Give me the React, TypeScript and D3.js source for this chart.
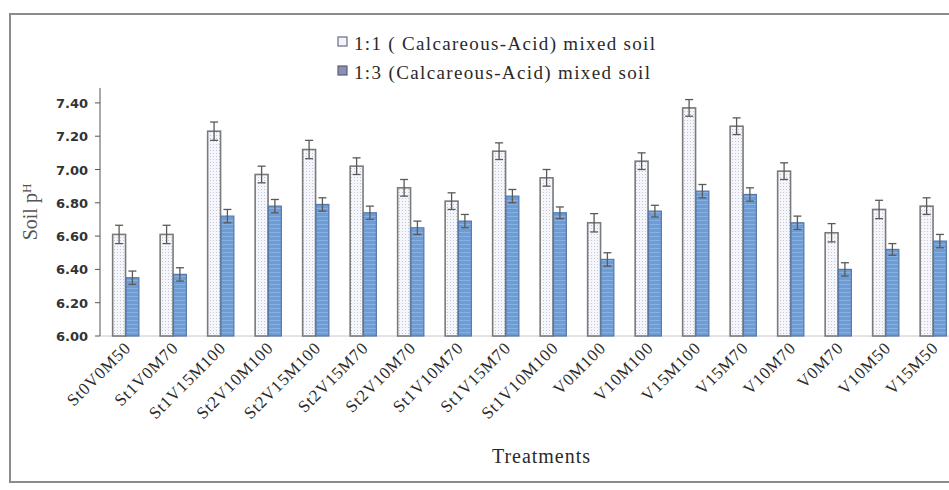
import React from "react";
import * as d3 from "d3";

const categories = [
  "St0V0M50", "St1V0M70", "St1V15M100", "St2V10M100", "St2V15M100", "St2V15M70",
  "St2V10M70", "St1V10M70", "St1V15M70", "St1V10M100", "V0M100", "V10M100",
  "V15M100", "V15M70", "V10M70", "V0M70", "V10M50", "V15M50",
];
const series11 = [6.61, 6.61, 7.23, 6.97, 7.12, 7.02, 6.89, 6.81, 7.11, 6.95, 6.68, 7.05, 7.37, 7.26, 6.99, 6.62, 6.76, 6.78];
const err11 = [0.055, 0.055, 0.055, 0.05, 0.055, 0.05, 0.05, 0.05, 0.05, 0.05, 0.055, 0.05, 0.05, 0.05, 0.05, 0.055, 0.055, 0.05];
const series13 = [6.35, 6.37, 6.72, 6.78, 6.79, 6.74, 6.65, 6.69, 6.84, 6.74, 6.46, 6.75, 6.87, 6.85, 6.68, 6.40, 6.52, 6.57];
const err13 = [0.04, 0.04, 0.04, 0.04, 0.04, 0.04, 0.04, 0.04, 0.04, 0.035, 0.04, 0.035, 0.04, 0.04, 0.04, 0.04, 0.035, 0.04];
const yTicks = [6.0, 6.2, 6.4, 6.6, 6.8, 7.0, 7.2, 7.4];
const legendLabels = ["1:1 ( Calcareous-Acid) mixed soil", "1:3 (Calcareous-Acid) mixed soil"];

export default function App() {
  const W = 949, H = 490;
  const x0 = d3.scaleBand<string>().domain(categories).range([102, 957]).padding(0);
  const x1 = d3.scaleBand<string>().domain(["a", "b"]).range([-13.5, 13.5]).padding(0.03);
  const y = d3.scaleLinear().domain([6.0, 7.5]).range([336, 86.25]);
  const serif = "'Liberation Serif', 'Times New Roman', serif";
  const cx = (c: string) => (x0(c) as number) + x0.bandwidth() / 2;

  const errBar = (xc: number, v: number, e: number, key: string) => (
    <g key={key} stroke="#5a5a5a" strokeWidth={1.3}>
      <line x1={xc} x2={xc} y1={y(v - e)} y2={y(v + e)} />
      <line x1={xc - 4} x2={xc + 4} y1={y(v + e)} y2={y(v + e)} />
      <line x1={xc - 4} x2={xc + 4} y1={y(v - e)} y2={y(v - e)} />
    </g>
  );

  return (
    <div style={{ position: "absolute", left: 0, top: 0 }}>
      <svg width={W} height={H} style={{ display: "block", background: "#fff" }}>
        <defs>
          <pattern id="dots" width="3" height="3" patternUnits="userSpaceOnUse">
            <rect width="3" height="3" fill="#f4f6fb" />
            <rect width="1" height="1" fill="#c3c8d4" />
          </pattern>
          <pattern id="blue" width="4" height="4" patternUnits="userSpaceOnUse">
            <rect width="4" height="4" fill="#6d9dd6" />
            <rect width="4" height="1" fill="#88b1e1" />
          </pattern>
        </defs>
        <rect x={10} y={14} width={960} height={468} fill="#fff" stroke="#8c8c8c" strokeWidth={2} />

        {/* legend */}
        <rect x={338} y={37} width={9} height={9} fill="#f2f4f9" stroke="#6a6d80" strokeWidth={1.2} />
        <text x={354} y={50} fontFamily={serif} fontSize={19} fill="#2a2a2a" textLength={301} lengthAdjust="spacing">{legendLabels[0]}</text>
        <rect x={338} y={66} width={9} height={9} fill="#8a90b2" stroke="#5a5f7a" strokeWidth={1.2} />
        <text x={354} y={79} fontFamily={serif} fontSize={19} fill="#2a2a2a" textLength={296} lengthAdjust="spacing">{legendLabels[1]}</text>

        {/* baseline */}
        <line x1={100} x2={949} y1={y(6)} y2={y(6)} stroke="#c8c8c8" strokeWidth={1} />

        {/* bars */}
        {categories.map((c, i) => {
          const xa = cx(c) + (x1("a") as number);
          const xb = cx(c) + (x1("b") as number);
          const bw = x1.bandwidth();
          return (
            <g key={c}>
              <rect x={xa} y={y(series11[i])} width={bw} height={y(6) - y(series11[i])} fill="url(#dots)" stroke="#7a7a7a" strokeWidth={1.6} />
              <rect x={xb} y={y(series13[i])} width={bw} height={y(6) - y(series13[i])} fill="url(#blue)" stroke="#5676a6" strokeWidth={1.2} />
              {errBar(xa + bw / 2, series11[i], err11[i], "ea")}
              {errBar(xb + bw / 2, series13[i], err13[i], "eb")}
            </g>
          );
        })}

        {/* y axis */}
        <line x1={100} x2={100} y1={y(7.49)} y2={y(6)} stroke="#555" strokeWidth={1} />
        {yTicks.map((t) => (
          <g key={t}>
            <line x1={95} x2={100} y1={y(t)} y2={y(t)} stroke="#555" strokeWidth={1} />
            <text x={88} y={y(t) + 5} textAnchor="end" fontFamily="'DejaVu Sans', sans-serif" fontWeight="bold" fontSize={13} fill="#333">
              {d3.format(".2f")(t)}
            </text>
          </g>
        ))}

        {/* x labels */}
        {categories.map((c) => (
          <text
            key={c}
            transform={`translate(${cx(c) + 6},${349}) rotate(-45)`}
            textAnchor="end"
            fontFamily={serif}
            fontSize={17}
            letterSpacing={0.8}
            fill="#2a2a2a"
          >
            {c}
          </text>
        ))}

        <text x={541} y={463} textAnchor="middle" fontFamily={serif} fontSize={20} fill="#2a2a2a" textLength={98} lengthAdjust="spacing">Treatments</text>
        <text transform="translate(37,212) rotate(-90)" textAnchor="middle" fontFamily={serif} fontSize={20} fill="#555">
          Soil p<tspan fontSize={13} dy={-6}>H</tspan>
        </text>
      </svg>
    </div>
  );
}
